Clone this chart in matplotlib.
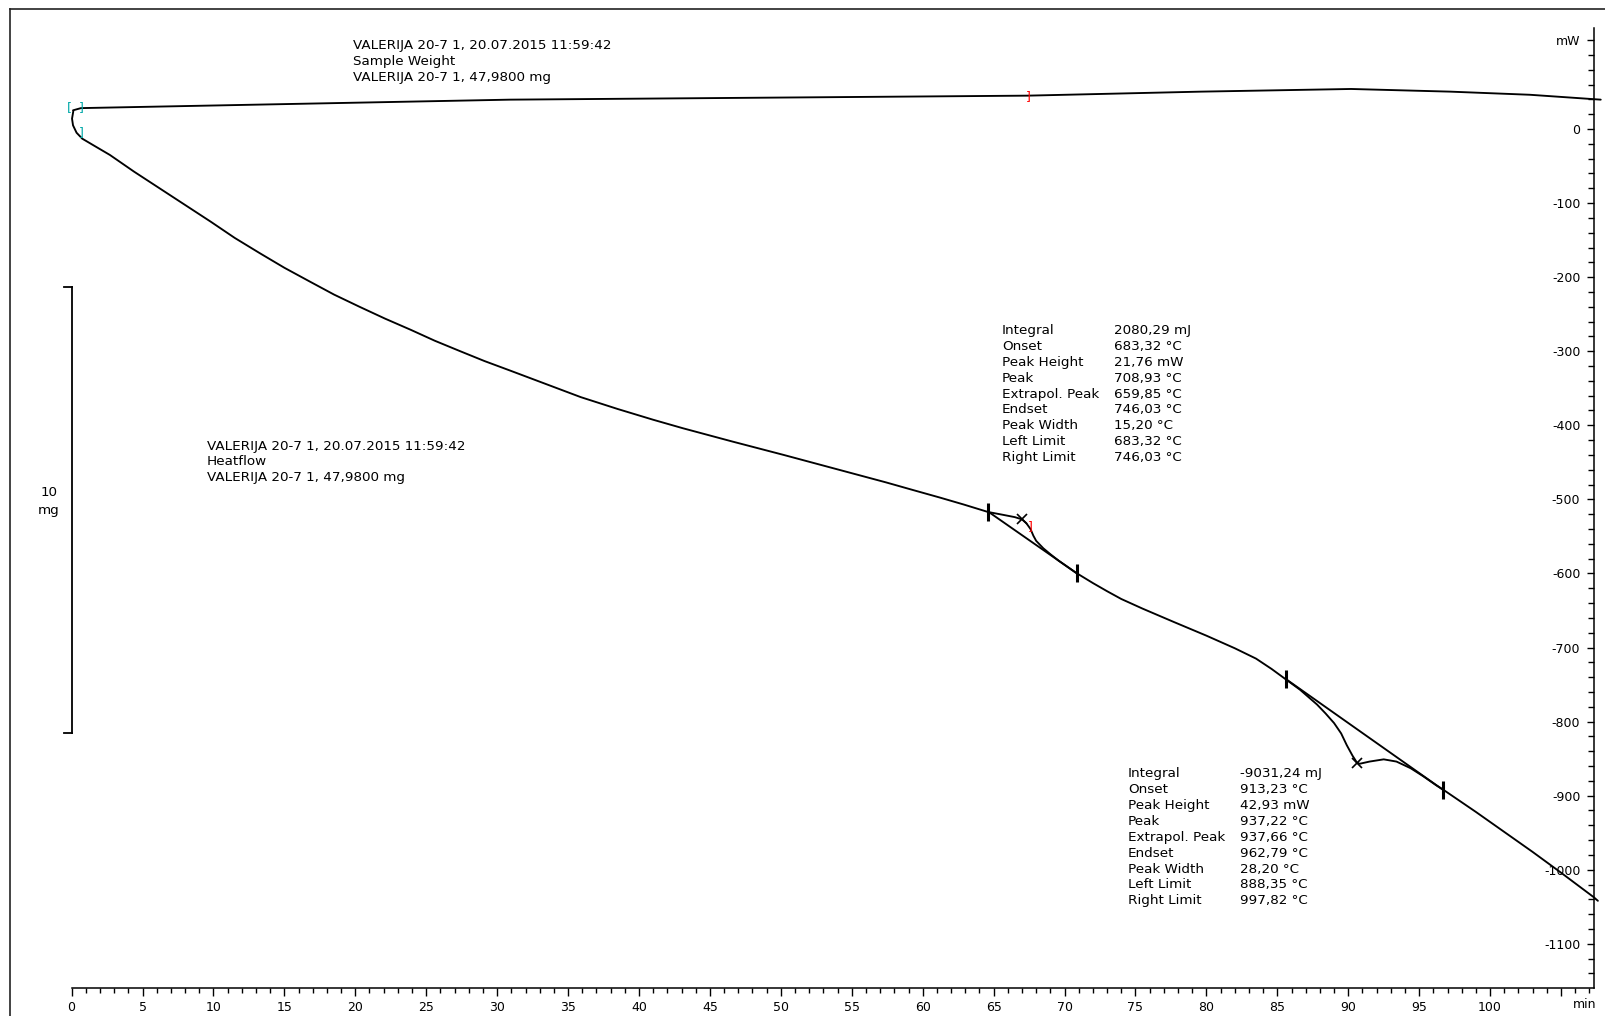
import numpy as np
import matplotlib
matplotlib.use("Agg")
import matplotlib.pyplot as plt
from matplotlib.lines import Line2D
from matplotlib.ticker import MultipleLocator, FixedLocator, FixedFormatter
import matplotlib.transforms as mtransforms

plt.rcParams['font.family'] = ['DejaVu Sans']

# ---------------- data ----------------
# Heatflow curve (time in min, heat flow in mW)
hf_time = [0.12, 0.03, 0.10, 0.35, 0.75, 1.5, 2.7, 4.4, 6.2, 8.0, 9.8, 11.5, 13.3, 15.0,
           16.8, 18.5, 20.3, 22.1, 23.9, 25.6, 27.4, 29.1, 30.9, 33.4, 35.9, 38.5, 41.0,
           43.1, 46.6, 50.2, 53.8, 57.4, 59.3, 61.2, 62.9, 64.6,
           65.7, 66.5, 67.0, 67.3, 67.6, 67.8, 68.0, 68.2, 68.5, 69.0, 69.6, 70.8,
           72.0, 73.0, 74.0, 75.5, 77.7, 80.0, 82.0, 83.5, 84.6, 85.6,
           86.6, 87.8, 88.4, 89.0, 89.5, 89.9, 90.3, 90.6, 90.8, 91.5, 92.5, 93.4, 94.4,
           95.3, 96.2, 96.7,
           99.0, 101.0, 103.0, 105.0, 107.3, 107.6]
hf_mw = [24, 14, 5, -5, -13, -21.5, -35, -57.5, -80, -102.5, -125, -147, -168, -187.3,
         -206, -223.5, -240, -256, -271, -285.8, -300, -313.2, -326, -344, -362, -378, -392.5,
         -404, -422, -440, -458.5, -477, -487.3, -497.5, -507, -517,
         -521, -524, -527, -532, -540, -549, -556, -560, -566, -574, -583, -599,
         -613, -624, -634.5, -647.5, -665.5, -684, -701, -715, -729, -743,
         -757, -777, -789, -802, -816, -832, -846, -855, -857, -854, -851, -854, -863,
         -874, -886, -892,
         -922, -949, -976, -1004, -1037, -1042]

# Sample weight curve (time in min, mass in mg)
tg_time = [0.10, 0.66, 30.9, 67.4, 79.6, 90.2, 97.2, 102.8, 107.8]
tg_mg = [47.98, 48.03, 48.22, 48.31, 48.40, 48.46, 48.40, 48.33, 48.22]

# Peak evaluation: limits (baseline ends) and peak maxima
peak1_limits_t = [64.63, 70.86]
peak1_limits_mw = [-516.7, -599.8]
peak2_limits_t = [85.6, 96.7]
peak2_limits_mw = [-742.5, -892.4]
peak_max_t = [66.98, 90.6]
peak_max_mw = [-526.9, -855.5]

# Scale bar for the mass axis (mg)
scale_bar_mg = [34.0, 44.0]

# Axis ticks
x_major = list(range(0, 106, 5))
x_labels = [str(v) for v in range(0, 101, 5)] + ['']
y_major = list(range(-1100, 1, 100)) + [120]
y_labels = [str(v) for v in range(-1100, 1, 100)] + ['mW']

header_lines = ["VALERIJA 20-7 1, 20.07.2015 11:59:42", "Sample Weight",
                "VALERIJA 20-7 1, 47,9800 mg"]
heat_lines = ["VALERIJA 20-7 1, 20.07.2015 11:59:42", "Heatflow",
              "VALERIJA 20-7 1, 47,9800 mg"]
stat_names = ["Integral", "Onset", "Peak Height", "Peak", "Extrapol. Peak",
              "Endset", "Peak Width", "Left Limit", "Right Limit"]
stats1 = ["2080,29 mJ", "683,32 °C", "21,76 mW", "708,93 °C", "659,85 °C",
          "746,03 °C", "15,20 °C", "683,32 °C", "746,03 °C"]
stats2 = ["-9031,24 mJ", "913,23 °C", "42,93 mW", "937,22 °C", "937,66 °C",
          "962,79 °C", "28,20 °C", "888,35 °C", "997,82 °C"]

# ---------------- figure ----------------
W, H = 1605, 1016
fig = plt.figure(figsize=(W / 100, H / 100), dpi=100)

def fx(px):
    return px / W

def fy(py):
    return 1 - py / H

ax_left, ax_right = 71.6, 1593.5
ax_top, ax_bot = 28, 988
ax = fig.add_axes([fx(ax_left), fy(ax_bot), (ax_right - ax_left) / W, (ax_bot - ax_top) / H])
ax.set_xlim(0, 107.29)
ax.set_ylim(-1159.7, 136.4)

for s in ['top', 'right']:
    ax.spines[s].set_visible(False)
ax.spines['left'].set_position(('axes', 1.0))
ax.spines['left'].set_linewidth(1.1)
ax.spines['bottom'].set_linewidth(1.1)
ax.patch.set_alpha(0)

ax.xaxis.set_major_locator(FixedLocator(x_major))
ax.xaxis.set_major_formatter(FixedFormatter(x_labels))
ax.xaxis.set_minor_locator(MultipleLocator(1))
ax.yaxis.set_major_locator(FixedLocator(y_major))
ax.yaxis.set_major_formatter(FixedFormatter(y_labels))
ax.yaxis.set_minor_locator(MultipleLocator(20))
ax.tick_params(axis='x', which='major', direction='out', length=6, width=1.0, pad=3.5, labelsize=9)
ax.tick_params(axis='x', which='minor', direction='out', length=3.5, width=1.0)
ax.tick_params(axis='y', which='major', direction='out', length=5, width=1.0, pad=4.5, labelsize=9)
ax.tick_params(axis='y', which='minor', direction='out', length=4, width=1.0)

trans_xlab = mtransforms.blended_transform_factory(ax.transData, ax.transAxes)
ax.text(106.66, -0.0177, 'min', transform=trans_xlab, ha='center', va='center', fontsize=9)

line_kw = dict(color='black', lw=1.35, solid_joinstyle='round', solid_capstyle='round')
# heat flow curve
ax.plot(hf_time, hf_mw, clip_on=False, zorder=3, **line_kw)
# baselines
ax.plot(peak1_limits_t, peak1_limits_mw, zorder=3, **line_kw)
ax.plot(peak2_limits_t, peak2_limits_mw, zorder=3, **line_kw)
# limit markers
ax.plot(peak1_limits_t + peak2_limits_t, peak1_limits_mw + peak2_limits_mw, ls='none',
        marker='|', ms=13, mew=2.2, color='black', zorder=4)
# peak maxima
ax.plot(peak_max_t, peak_max_mw, ls='none', marker='x', ms=7.5, mew=1.2, color='black', zorder=4)
# evaluation bracket markers on heatflow
ax.text(0.66, -5.4, ']', color='#00a8a8', fontsize=9, ha='center', va='center', zorder=5)
ax.text(67.55, -536, ']', color='red', fontsize=9, ha='center', va='center', zorder=5)

# weight axis (hidden)
axw = ax.twinx()
axw.set_position(ax.get_position())
axw.set_ylim(28.26, 49.83)
axw.set_xlim(ax.get_xlim())
axw.axis('off')
axw.plot(tg_time, tg_mg, clip_on=False, zorder=3, **line_kw)
axw.text(-0.14, 48.05, '[', color='#00a8a8', fontsize=9, ha='center', va='center')
axw.text(0.66, 48.05, ']', color='#00a8a8', fontsize=9, ha='center', va='center')
axw.text(67.47, 48.30, ']', color='red', fontsize=9, ha='center', va='center')

# 10 mg scale bar
axw.plot([0, 0], scale_bar_mg, color='black', lw=1.3, clip_on=False)
for v in scale_bar_mg:
    axw.plot([-0.57, 0], [v, v], color='black', lw=1.3, clip_on=False)
fs = 9.7
fig.text(fx(49.1), fy(492.4), '10', fontsize=fs, ha='center', va='center')
fig.text(fx(49.1), fy(510.8), 'mg', fontsize=fs, ha='center', va='center')

# text blocks
for i, t in enumerate(header_lines):
    fig.text(fx(353), fy(46 + 15.6 * i), t, fontsize=fs, ha='left', va='center')
for i, t in enumerate(heat_lines):
    fig.text(fx(206.8), fy(446.3 + 15.6 * i), t, fontsize=fs, ha='left', va='center')
for i, (n, v) in enumerate(zip(stat_names, stats1)):
    y = 330.6 + 15.86 * i
    fig.text(fx(1002), fy(y), n, fontsize=fs, ha='left', va='center')
    fig.text(fx(1113.7), fy(y), v, fontsize=fs, ha='left', va='center')
for i, (n, v) in enumerate(zip(stat_names, stats2)):
    y = 773.8 + 15.88 * i
    fig.text(fx(1128), fy(y), n, fontsize=fs, ha='left', va='center')
    fig.text(fx(1239.6), fy(y), v, fontsize=fs, ha='left', va='center')

# outer frame
fig.add_artist(Line2D([fx(10), fx(10)], [fy(9), fy(1016)], color='#222222', lw=1.2))
fig.add_artist(Line2D([fx(10), fx(1605)], [fy(9), fy(9)], color='#222222', lw=1.2))

fig.savefig('out.png', dpi=100)
